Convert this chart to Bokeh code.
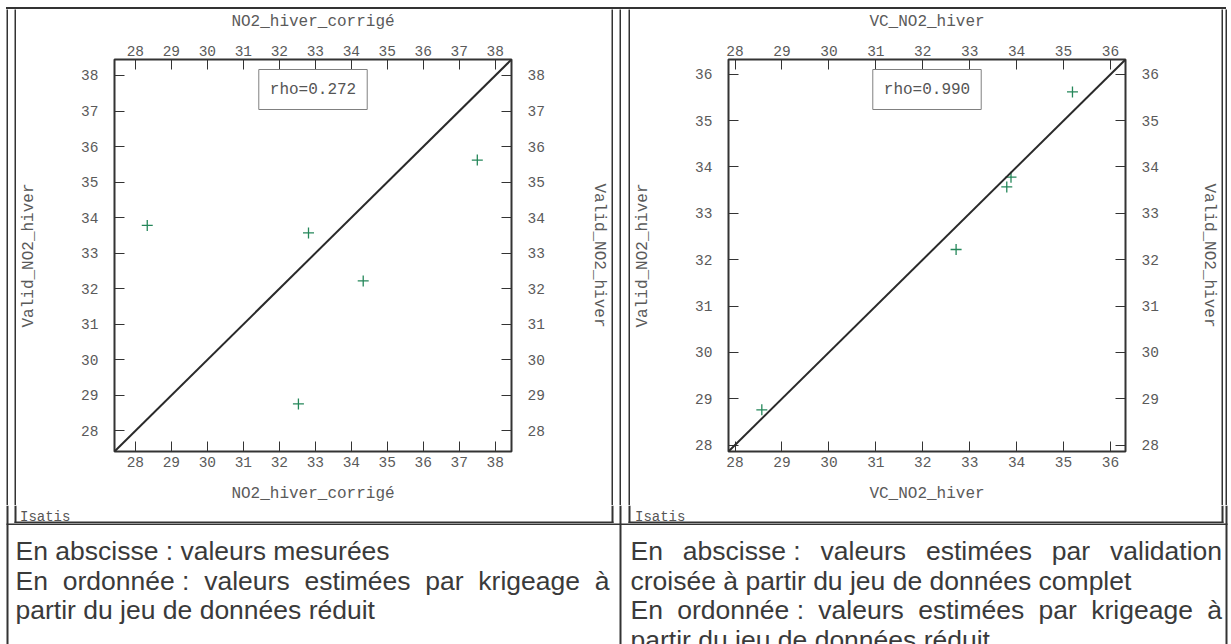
from bokeh.plotting import figure
from bokeh.models import Range1d, LinearAxis, FixedTicker, Slope, Label, Spacer, Div
from bokeh.layouts import row, column
from bokeh.embed import file_html
from bokeh.resources import INLINE
from bokeh.core.properties import value

# ---------------- data ----------------
valid_no2_hiver = [33.78, 33.57, 35.62, 32.22, 28.76]      # ordinate of both plots
no2_hiver_corrige = [28.33, 32.81, 37.50, 34.33, 32.53]    # abscissa, left plot
vc_no2_hiver = [33.88, 33.79, 35.19, 32.71, 28.57]         # abscissa, right plot
rho_left = "rho=0.272"
rho_right = "rho=0.990"
ticks_left = [28, 29, 30, 31, 32, 33, 34, 35, 36, 37, 38]
ticks_right = [28, 29, 30, 31, 32, 33, 34, 35, 36]
range_left = (27.42, 38.45)
range_right = (27.86, 36.32)
xlabel_left = "NO2_hiver_corrigé"
xlabel_right = "VC_NO2_hiver"
ylabel = "Valid_NO2_hiver"
footer = "Isatis"
left_par = [
    ("En abscisse : valeurs mesurées", False),
    ("En ordonnée\u00a0: valeurs estimées par krigeage à", True),
    ("partir du jeu de données réduit", False),
]
right_par = [
    ("En abscisse\u00a0: valeurs estimées par validation", True),
    ("croisée à partir du jeu de données complet", False),
    ("En ordonnée\u00a0: valeurs estimées par krigeage à", True),
    ("partir du jeu de données réduit", False),
]

# ---------------- styles ----------------
DARK = "#333333"
GREEN = "#25875a"
MONO = "Liberation Mono"
SANS = "Liberation Sans"
PAR_FS = 26.5
LINE_Y = [45, 75, 104.5, 134.5]

# Arial / Liberation Sans advance widths (1/1000 em)
AW = {" ": 278, "\u00a0": 278, ":": 278, "E": 667, "a": 556, "b": 556, "c": 500,
      "d": 556, "e": 556, "g": 556, "i": 222, "j": 222, "k": 500, "l": 222,
      "m": 833, "n": 556, "o": 556, "p": 556, "r": 333, "s": 500, "t": 278,
      "u": 556, "v": 500, "é": 556, "à": 556}


def tw(s):
    return sum(AW.get(c, 556) for c in s) * PAR_FS / 1000.0


def solid(w, h):
    """A plain dark block (used for the table / frame rules)."""
    f = figure(width=w, height=h, output_backend="svg", toolbar_location=None, min_border=0,
               x_axis_location=None, y_axis_location=None)
    f.xgrid.visible = False
    f.ygrid.visible = False
    f.outline_line_color = None
    f.background_fill_color = DARK
    f.border_fill_color = DARK
    return f


def gap(w, h):
    return Spacer(width=w, height=h, margin=0)


def deco(w, h):
    f = figure(width=w, height=h, x_range=Range1d(0, w), y_range=Range1d(h, 0),
               output_backend="svg", toolbar_location=None, min_border=0,
               x_axis_location=None, y_axis_location=None)
    f.xgrid.visible = False
    f.ygrid.visible = False
    f.outline_line_color = None
    f.background_fill_color = "white"
    f.border_fill_color = "white"
    return f


def bars(f, rects):
    f.quad(left=[r[0] for r in rects], right=[r[1] for r in rects],
           top=[r[2] for r in rects], bottom=[r[3] for r in rects],
           fill_color=DARK, line_color=None)


def scatter_fig(w, h, rng, ticks, xs, ys, xlabel, rho, mbl, mbr, mbt, mbb, left_so, right_so):
    lo, hi = rng
    p = figure(width=w, height=h, x_range=Range1d(lo, hi), y_range=Range1d(lo, hi),
               output_backend="svg", toolbar_location=None,
               min_border_left=mbl, min_border_right=mbr,
               min_border_top=mbt, min_border_bottom=mbb)
    top_ax = LinearAxis()
    right_ax = LinearAxis()
    p.add_layout(top_ax, "above")
    p.add_layout(right_ax, "right")
    bottom_ax = p.below[0]
    left_ax = p.left[0]
    for ax in (top_ax, bottom_ax, left_ax, right_ax):
        ax.ticker = FixedTicker(ticks=ticks)
        ax.axis_line_color = None
        ax.major_tick_in = 10
        ax.major_tick_out = 0
        ax.major_tick_line_color = DARK
        ax.major_tick_line_width = 1
        ax.minor_tick_line_color = None
        ax.major_label_text_font = MONO
        ax.major_label_text_font_size = "14.5px"
        ax.major_label_text_color = "#5a5a5a"
        ax.axis_label_text_font = MONO
        ax.axis_label_text_font_size = "16px"
        ax.axis_label_text_font_style = "normal"
        ax.axis_label_text_color = "#5a5a5a"
    top_ax.axis_label = xlabel
    bottom_ax.axis_label = xlabel
    left_ax.axis_label = ylabel
    right_ax.axis_label = ylabel
    top_ax.major_label_standoff = 4
    top_ax.axis_label_standoff = 12
    bottom_ax.major_label_standoff = 5
    bottom_ax.axis_label_standoff = 15
    left_ax.major_label_standoff = 16
    left_ax.axis_label_standoff = left_so
    right_ax.major_label_standoff = 16
    right_ax.axis_label_standoff = right_so
    p.xgrid.visible = False
    p.ygrid.visible = False
    p.outline_line_color = DARK
    p.outline_line_width = 2
    p.background_fill_color = "white"
    p.border_fill_color = "white"

    p.add_layout(Slope(gradient=1, y_intercept=0, line_color="#2a2a2a", line_width=2))
    p.scatter(x=xs, y=ys, marker="cross", size=11, line_color=GREEN, line_width=1.3)

    kw = dict(x=(lo + hi) / 2.0, y=hi, text=rho, y_offset=-10,
              text_align="center", text_baseline="top",
              text_font=MONO, text_font_size="16px", text_color="#555555",
              border_line_color="#808080", border_line_width=1,
              background_fill_color="white")
    try:
        lab = Label(anchor="top_center", padding=11, **kw)
    except Exception:
        lab = Label(**kw)
    p.add_layout(lab)
    return p


W = 1231
H_MID = 496
H_BOT = 644 - 9 - H_MID   # 139

# top rule of the table (y 7 -> 9)
rule = Div(text="", width=1220, height=2, margin=0, styles={"background-color": DARK})
top = column(gap(W, 7), row(gap(6, 2), rule, gap(5, 2)))

# middle band: frames of the two Isatis pictures and table rules (y 9 -> 505)
strip_a = row(gap(6, H_MID), solid(2, H_MID), gap(6, H_MID), solid(2, H_MID))          # x 0 -> 16
left_plot = scatter_fig(595, H_MID, range_left, ticks_left, no2_hiver_corrige, valid_no2_hiver,
                        xlabel_left, rho_left, 98, 100, 49, 51, 40, 42)                 # x 16 -> 611
strip_b = row(solid(2, H_MID), gap(6, H_MID), solid(2, H_MID), gap(7, H_MID),
              solid(2, H_MID))                                                         # x 611 -> 630
right_plot = scatter_fig(591, H_MID, range_right, ticks_right, vc_no2_hiver, valid_no2_hiver,
                         xlabel_right, rho_right, 98, 96, 49, 51, 40, 38)              # x 630 -> 1221
strip_c = row(solid(2, H_MID), gap(2, H_MID), solid(2, H_MID), gap(4, H_MID))          # x 1221 -> 1231

# bottom band (y 505 -> 644)
bottom = deco(W, H_BOT)
bars(bottom, [
    (6, 8, 0, H_BOT), (619, 621, 0, H_BOT), (1225, 1227, 0, H_BOT),
    (14, 16, 0, 17.5), (611, 613, 0, 17.5), (628, 630, 0, 17.5), (1221, 1223, 0, 17.5),
    (14, 613, 16, 17.5), (628, 1223, 16, 17.5),
    (6, 1227, 18, 19.5),
])
bottom.text(x=[19.5, 634.5], y=[11.2, 11.2], text=[footer, footer], text_font=value(MONO),
            text_font_size="14px", text_color="#555555", text_baseline="alphabetic",
            text_align="left")


def par_glyphs(f, lines, x0, x1):
    xs, ys, ts = [], [], []
    for i, (s, just) in enumerate(lines):
        y = LINE_Y[i]
        if not just:
            xs.append(x0); ys.append(y); ts.append(s)
            continue
        words = s.split(" ")
        total = sum(tw(wd) for wd in words)
        g = (x1 - x0 - total) / (len(words) - 1)
        x = x0
        for wd in words:
            xs.append(x); ys.append(y); ts.append(wd)
            x += tw(wd) + g
    f.text(x=xs, y=ys, text=ts, text_font=value(SANS), text_font_size="%.1fpx" % PAR_FS,
           text_color="#3a3a3a", text_baseline="alphabetic", text_align="left")


par_glyphs(bottom, left_par, 15, 609)
par_glyphs(bottom, right_par, 630, 1221.5)

layout = column(top,
                row(strip_a, left_plot, strip_b, right_plot, strip_c),
                bottom)

with open("out.html", "w") as fh:
    fh.write(file_html(layout, INLINE))
